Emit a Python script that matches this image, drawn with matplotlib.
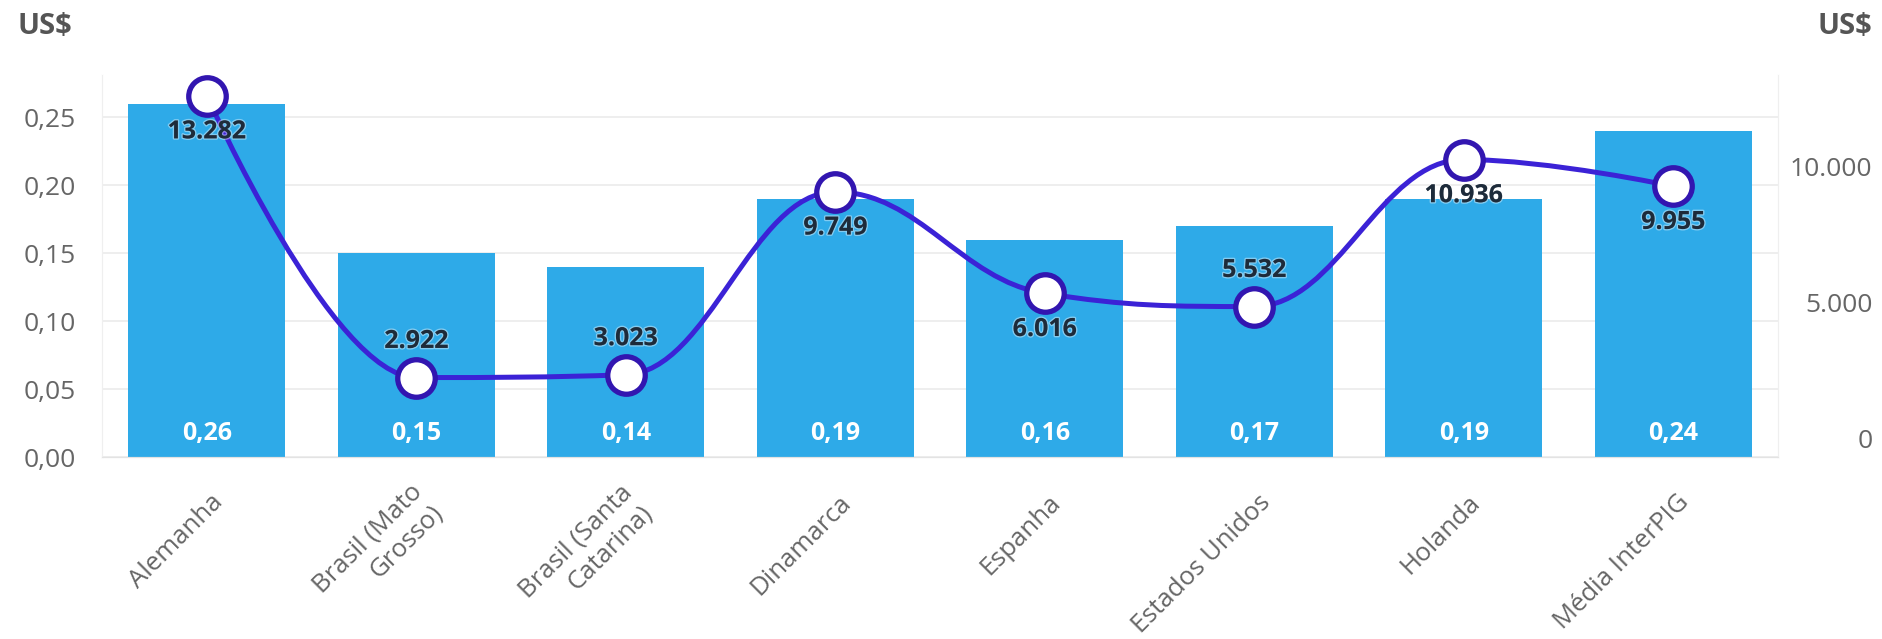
import numpy as np
import matplotlib
matplotlib.use('Agg')
import matplotlib.pyplot as plt
from matplotlib.path import Path
from matplotlib.patches import PathPatch
from matplotlib.transforms import ScaledTranslation
import matplotlib.patheffects as pe

plt.rcParams['font.family'] = ['Open Sans', 'DejaVu Sans']

# dados
paises = ['Alemanha', 'Brasil (Mato\nGrosso)', 'Brasil (Santa\nCatarina)', 'Dinamarca',
          'Espanha', 'Estados Unidos', 'Holanda', 'Média InterPIG']
custo_kg = [0.26, 0.15, 0.14, 0.19, 0.16, 0.17, 0.19, 0.24]
custo_total = [13282, 2922, 3023, 9749, 6016, 5532, 10936, 9955]
rotulo_acima = [False, True, True, False, False, True, False, False]

cor_barra = '#2eaae8'
cor_linha = '#3b22d6'
cor_borda = '#3216b0'
cor_texto = '#666666'


def fmt_br(v, casas):
    s = '{:,.{}f}'.format(v, casas)
    return s.replace(',', 'X').replace('.', ',').replace('X', '.')


def spline_path(xs, ys, smoothing=1.5):
    # curva suave no estilo highcharts
    denom = smoothing + 1
    n = len(xs)
    left = [(xs[i], ys[i]) for i in range(n)]
    right = [(xs[i], ys[i]) for i in range(n)]
    for i in range(1, n - 1):
        px, py = xs[i], ys[i]
        lx, ly = xs[i - 1], ys[i - 1]
        nx, ny = xs[i + 1], ys[i + 1]
        lcx = (smoothing * px + lx) / denom
        lcy = (smoothing * py + ly) / denom
        rcx = (smoothing * px + nx) / denom
        rcy = (smoothing * py + ny) / denom
        if rcx != lcx:
            corr = ((rcy - lcy) * (rcx - px)) / (rcx - lcx) + py - rcy
            lcy += corr
            rcy += corr
            if lcy > ly and lcy > py:
                lcy = max(ly, py)
                rcy = 2 * py - lcy
            elif lcy < ly and lcy < py:
                lcy = min(ly, py)
                rcy = 2 * py - lcy
            if rcy > ny and rcy > py:
                rcy = max(ny, py)
                lcy = 2 * py - rcy
            elif rcy < ny and rcy < py:
                rcy = min(ny, py)
                lcy = 2 * py - rcy
        left[i] = (lcx, lcy)
        right[i] = (rcx, rcy)
    verts = [(xs[0], ys[0])]
    codes = [Path.MOVETO]
    for i in range(1, n):
        verts += [right[i - 1], left[i], (xs[i], ys[i])]
        codes += [Path.CURVE4] * 3
    return Path(verts, codes)


fig = plt.figure(figsize=(18.83, 6.39), dpi=100)
ax = fig.add_axes([0.0542, 0.2848, 0.89, 0.5978])
ax2 = ax.twinx()

x = np.arange(len(paises))
ax.bar(x, custo_kg, width=0.75, color=cor_barra, zorder=2)
ax.set_xlim(-0.5, len(paises) - 0.5)
ax.set_ylim(0, 0.281)
ax.set_yticks(np.arange(0, 0.26, 0.05))
ax.set_yticklabels([fmt_br(v, 2) for v in np.arange(0, 0.26, 0.05)])
ax.grid(axis='y', color='#ebebeb', linewidth=1.2, zorder=0)
ax.set_axisbelow(True)
ax.tick_params(axis='y', length=0, pad=19, labelsize=19, labelcolor=cor_texto)
ax.tick_params(axis='x', length=0, pad=8)
ax.set_xticks(x)
ax.set_xticklabels(paises, rotation=45, ha='right', va='center', rotation_mode='anchor',
                   fontsize=18.5, color=cor_texto)
for lab in ax.get_xticklabels():
    lab.set_transform(lab.get_transform() + ScaledTranslation(9 / 72, -22 / 72, fig.dpi_scale_trans))

for sp in ['top']:
    ax.spines[sp].set_visible(False)
    ax2.spines[sp].set_visible(False)
for a in (ax, ax2):
    a.spines['left'].set_color('#efefef')
    a.spines['right'].set_color('#efefef')
    a.spines['bottom'].set_color('#e3e3e3')

for i, v in enumerate(custo_kg):
    ax.annotate(fmt_br(v, 2), xy=(i, 0), xytext=(0, 17), textcoords='offset points',
                ha='center', va='center', color='white', fontsize=18, fontweight='bold', zorder=3)

# eixo direito
ax2.set_ylim(0, 14044)
ax2.set_yticks([0, 5000, 10000])
ax2.set_yticklabels(['0', '5.000', '10.000'])
ax2.tick_params(axis='y', length=0, pad=68, labelsize=19, labelcolor=cor_texto)
for lab in ax2.get_yticklabels():
    lab.set_horizontalalignment('right')
    lab.set_transform(lab.get_transform() + ScaledTranslation(0, 13 / 72, fig.dpi_scale_trans))

curva = spline_path(list(x.astype(float)), custo_total)
ax2.add_patch(PathPatch(curva, fill=False, edgecolor=cor_linha, linewidth=3.6, zorder=4))
ax2.plot(x, custo_total, linestyle='none', marker='o', markersize=27,
         markerfacecolor='white', markeredgecolor=cor_borda, markeredgewidth=3.8, zorder=5)

for i, v in enumerate(custo_total):
    dy = 26 if rotulo_acima[i] else -26
    ax2.annotate(fmt_br(v, 0), xy=(i, v), xytext=(0, dy), textcoords='offset points',
                 ha='center', va='center', color='#1d2b3a', fontsize=18, fontweight='bold', zorder=6,
                 path_effects=[pe.withStroke(linewidth=2, foreground=(1, 1, 1, 0.4))])

fig.text(18 / 1883, 1 - 27 / 639, 'US$', ha='left', va='center', fontsize=21,
         fontweight='bold', color='#555555')
fig.text(1872 / 1883, 1 - 27 / 639, 'US$', ha='right', va='center', fontsize=21,
         fontweight='bold', color='#555555')

fig.savefig('out.png', dpi=100)
